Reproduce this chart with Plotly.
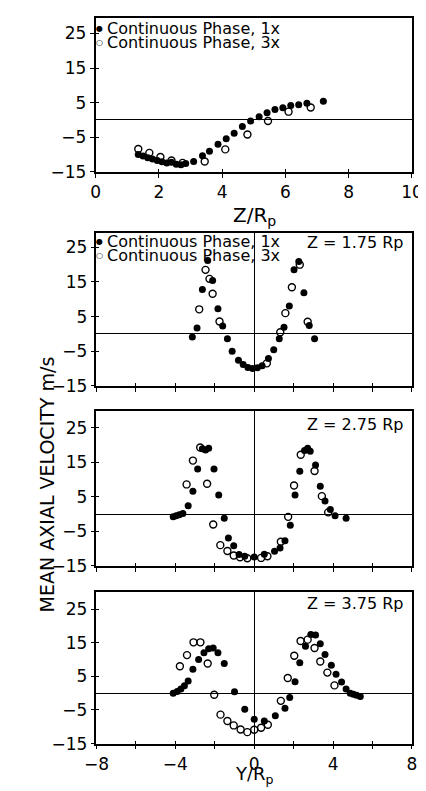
import plotly.graph_objects as go

# ---------------- data ----------------
# Panel 1: mean axial velocity along the axis vs Z/Rp
z1_filled = [1.35, 1.5, 1.65, 1.8, 1.95, 2.1, 2.25, 2.4, 2.55, 2.7, 2.85, 3.1, 3.38, 3.6, 3.87,
             4.13, 4.38, 4.64, 4.9, 5.17, 5.42, 5.67, 5.92, 6.17, 6.42, 6.68, 7.2]
v1_filled = [-10.0, -10.4, -10.9, -11.3, -11.7, -12.1, -12.4, -12.2, -12.8, -12.9, -12.6, -12.0, -10.3, -9.0, -7.0,
             -5.4, -3.8, -1.9, -0.3, 0.9, 2.1, 3.0, 3.5, 4.2, 4.4, 4.8, 5.4]
z1_open = [1.35, 1.7, 2.05, 2.4, 2.75, 3.45, 4.1, 4.8, 5.45, 6.1, 6.8]
v1_open = [-8.4, -9.5, -10.7, -11.7, -12.4, -12.0, -8.5, -4.2, -0.3, 2.4, 3.6]

# Panel 2: Z = 1.75 Rp
y2_filled = [-3.14, -2.9, -2.63, -2.36, -2.11, -1.84, -1.6, -1.36, -1.12, -0.8, -0.56, -0.32, -0.08,
             0.16, 0.4, 0.72, 0.99, 1.27, 1.51, 1.78, 2.02, 2.26, 2.52, 2.79, 3.06]
v2_filled = [-0.9, 1.7, 12.8, 21.2, 15.4, 7.3, 2.3, -1.4, -5.0, -7.6, -8.8, -9.7, -10.0,
             -9.8, -9.2, -7.1, -4.6, -1.4, 1.9, 8.1, 18.5, 20.9, 11.9, 2.4, -1.4]
y2_open = [-2.79, -2.47, -2.27, -2.11, -1.76, 0.64, 1.32, 1.58, 1.91, 2.31, 2.71]
v2_open = [7.1, 18.5, 15.9, 11.6, 3.6, -8.5, 0.5, 6.0, 13.5, 20.0, 3.5]

# Panel 3: Z = 2.75 Rp
y3_filled = [-4.11, -3.96, -3.80, -3.62, -3.35, -3.11, -2.87, -2.63, -2.47, -2.31, -2.04, -1.80, -1.52,
             -1.31, -1.04, -0.77, -0.48, 0.0, 0.51, 1.03, 1.31, 1.56, 1.83, 2.07, 2.31, 2.55, 2.71,
             2.84, 3.11, 3.35, 3.59, 3.86, 4.10, 4.66]
v3_filled = [-0.8, -0.5, -0.2, 0.2, 2.4, 6.6, 13.1, 18.9, 18.6, 19.1, 13.1, 5.5, -1.2,
             -6.9, -9.2, -11.7, -12.2, -12.4, -11.6, -10.8, -9.8, -7.7, -3.2, 5.5, 12.4, 18.4, 19.1,
             18.2, 14.2, 8.1, 3.8, 1.3, -0.5, -1.2]
y3_open = [-3.43, -3.11, -2.74, -2.39, -2.08, -1.72, -1.36, -1.04, -0.72, -0.35,
           0.35, 0.67, 1.35, 1.72, 2.02, 2.36, 3.06, 3.43, 3.75]
v3_open = [8.6, 15.5, 19.3, 8.8, -3.0, -9.0, -10.7, -12.0, -12.5, -12.8,
           -12.7, -12.2, -8.0, -0.8, 8.3, 17.2, 12.5, 5.2, 0.5]

# Panel 4: Z = 3.75 Rp
y4_filled = [-4.11, -3.91, -3.72, -3.54, -3.35, -3.11, -2.82, -2.55, -2.31, -2.08, -1.84, -1.52, -1.00,
             -0.48, 0.0, 0.51, 1.07, 1.56, 1.80, 2.07, 2.31, 2.60, 2.87, 3.11, 3.35, 3.59, 3.91,
             4.15, 4.43, 4.66, 4.87, 5.03, 5.19, 5.38]
v4_filled = [0.0, 0.5, 1.2, 2.2, 3.6, 7.1, 10.0, 12.0, 13.2, 13.4, 12.0, 8.8, 0.4,
             -4.8, -7.8, -8.3, -6.7, -4.5, -1.3, 3.4, 9.0, 13.9, 17.4, 17.3, 14.7, 11.5, 8.3,
             5.6, 3.3, 1.2, 0.0, -0.3, -0.6, -1.0]
y4_open = [-3.77, -3.41, -3.08, -2.73, -2.36, -2.03, -1.71, -1.36, -1.04, -0.69, -0.35, 0.0,
           0.35, 0.69, 1.35, 1.70, 2.03, 2.35, 2.71, 3.06, 3.35, 3.71, 4.07]
v4_open = [8.0, 11.3, 15.1, 15.1, 8.8, -0.5, -6.4, -8.3, -9.6, -10.8, -11.6, -10.9,
           -10.3, -9.4, -2.3, 4.5, 11.1, 15.5, 15.9, 13.4, 9.4, 6.1, 2.3]

series_1x = "Continuous Phase, 1x"
series_3x = "Continuous Phase, 3x"
panel_labels = ["Z = 1.75 Rp", "Z = 2.75 Rp", "Z = 3.75 Rp"]

y_tickvals = [-15, -5, 5, 15, 25]
y_ticktext = ["\u221215", "\u22125", "5", "15", "25"]
z_tickvals = [0, 2, 4, 6, 8, 10]
z_ticktext = ["0", "2", "4", "6", "8", "10"]
r_tickvals = [-8, -4, 0, 4, 8]
r_ticktext = ["\u22128", "\u22124", "0", "4", "8"]

# ---------------- layout helpers ----------------
W, H = 426, 791
FONT = "DejaVu Sans"


def px_x(a, b):
    return [a / W, b / W]


def px_y(top, bottom):
    return [1 - bottom / H, 1 - top / H]


domains_y = [px_y(10, 166), px_y(227.7, 382.7), px_y(407.7, 565), px_y(591.7, 745)]
domains_x = [px_x(79, 414.3), px_x(80, 414.3), px_x(80, 414.3), px_x(80, 414.3)]
yranges = [[-15, 29.5], [-15, 29.2], [-15, 30.0], [-15, 30.0]]

fig = go.Figure()

filled_style = dict(symbol="circle", size=7, color="black", line=dict(width=0))
open_style = dict(symbol="circle-open", size=7, color="black", line=dict(width=1.4))

panels = [
    (z1_filled, v1_filled, z1_open, v1_open),
    (y2_filled, v2_filled, y2_open, v2_open),
    (y3_filled, v3_filled, y3_open, v3_open),
    (y4_filled, v4_filled, y4_open, v4_open),
]

for i, (xf, vf, xo, vo) in enumerate(panels):
    k = i + 1
    xa = "x" if k == 1 else f"x{k}"
    ya = "y" if k == 1 else f"y{k}"
    fig.add_trace(go.Scatter(x=xo, y=vo, mode="markers", name=series_3x, marker=open_style,
                             xaxis=xa, yaxis=ya, showlegend=False))
    fig.add_trace(go.Scatter(x=xf, y=vf, mode="markers", name=series_1x, marker=filled_style,
                             xaxis=xa, yaxis=ya, showlegend=False))
    # empty trace on overlay axes (for inner half of crossing ticks)
    fig.add_trace(go.Scatter(x=[None], y=[None], mode="markers", xaxis=f"x{k+4}", yaxis=f"y{k+4}",
                             showlegend=False, hoverinfo="skip"))

layout = dict(
    width=W, height=H,
    margin=dict(l=0, r=0, t=0, b=0),
    paper_bgcolor="white", plot_bgcolor="white",
    font=dict(family=FONT, size=17, color="black"),
    showlegend=False,
)

for i in range(4):
    k = i + 1
    xkey = "xaxis" if k == 1 else f"xaxis{k}"
    ykey = "yaxis" if k == 1 else f"yaxis{k}"
    ya = "y" if k == 1 else f"y{k}"
    xa = "x" if k == 1 else f"x{k}"
    if k == 1:
        xr, tv, tt = [0, 10], z_tickvals, z_ticktext
        show_xlabels = True
        xzero = False
        minor_out = None
        minor_in = None
    else:
        xr, tv, tt = [-8, 8], r_tickvals, r_ticktext
        show_xlabels = (k == 4)
        xzero = True
        minor_out = dict(tick0=0, dtick=2, ticks="outside", ticklen=4, tickwidth=1.3, tickcolor="black",
                         showgrid=False)
        minor_in = dict(tick0=0, dtick=2, ticks="inside", ticklen=3, tickwidth=1.3, tickcolor="black",
                        showgrid=False)
    common_line = dict(showline=True, linecolor="black", linewidth=1.6, mirror=True,
                       showgrid=False, ticks="outside", ticklen=4, tickwidth=1.3, tickcolor="black",
                       fixedrange=True)
    xdict = dict(domain=domains_x[i], range=xr, anchor=ya, tickmode="array", tickvals=tv,
                 ticktext=tt, showticklabels=show_xlabels, zeroline=xzero,
                 zerolinecolor="black", zerolinewidth=1.3,
                 tickfont=dict(family=FONT, size=17), **common_line)
    if minor_out:
        xdict["minor"] = minor_out
    layout[xkey] = xdict
    layout[ykey] = dict(domain=domains_y[i], range=yranges[i], anchor=xa, tickmode="array",
                        tickvals=y_tickvals, ticktext=y_ticktext, zeroline=True,
                        zerolinecolor="black", zerolinewidth=1.3,
                        tickfont=dict(family=FONT, size=17), **common_line)
    # overlay axes providing the inner half of the ticks
    odict = dict(overlaying=xa, anchor=ya, range=xr, tickmode="array", tickvals=tv,
                 showticklabels=False, ticks="inside", ticklen=3, tickwidth=1.3,
                 tickcolor="black", showline=False, showgrid=False, zeroline=False,
                 fixedrange=True)
    if minor_in:
        odict["minor"] = minor_in
    layout[f"xaxis{k+4}"] = odict
    layout[f"yaxis{k+4}"] = dict(overlaying=ya, anchor=xa, range=yranges[i], tickmode="array",
                                 tickvals=y_tickvals, showticklabels=False, ticks="inside", ticklen=3,
                                 tickwidth=1.3, tickcolor="black", showline=False, showgrid=False,
                                 zeroline=False, fixedrange=True)

fig.update_layout(**layout)

ann = []


def add_text(text, x, y, size=16, xanchor="left", yanchor="middle", angle=0):
    ann.append(dict(text=text, x=x / W, y=1 - y / H, xref="paper", yref="paper",
                    xanchor=xanchor, yanchor=yanchor, showarrow=False, textangle=angle,
                    align="left", font=dict(family=FONT, size=size, color="black")))


# legend-like labels (panels 1 and 2): two tight lines in one text block
for (y1, y2) in [(20.5, 34.5), (236.5, 250.5)]:
    add_text("\u25CF", 83.5, y1, size=8, xanchor="center")
    add_text("\u25CB", 83.0, y2, size=8, xanchor="center")
    add_text(f"<span style='font-size:16px'>{series_1x}</span><br>"
             f"<span style='font-size:16px'>{series_3x}</span>",
             88.5, (y1 + y2) / 2, size=11)

# panel labels
for lab, yy in zip(panel_labels, [238, 421.5, 603.5]):
    add_text(lab, 408, yy, size=16, xanchor="right")

# axis titles
add_text("Z/R<sub>p</sub>", 247, 211, size=20, xanchor="center")
add_text("Y/R<sub>p</sub>", 247, 791, size=18, xanchor="center", yanchor="bottom")
add_text("MEAN AXIAL VELOCITY m/s", 27, 482, size=19, xanchor="center", angle=-90)

fig.update_layout(annotations=ann)

fig.write_html("out.html")
